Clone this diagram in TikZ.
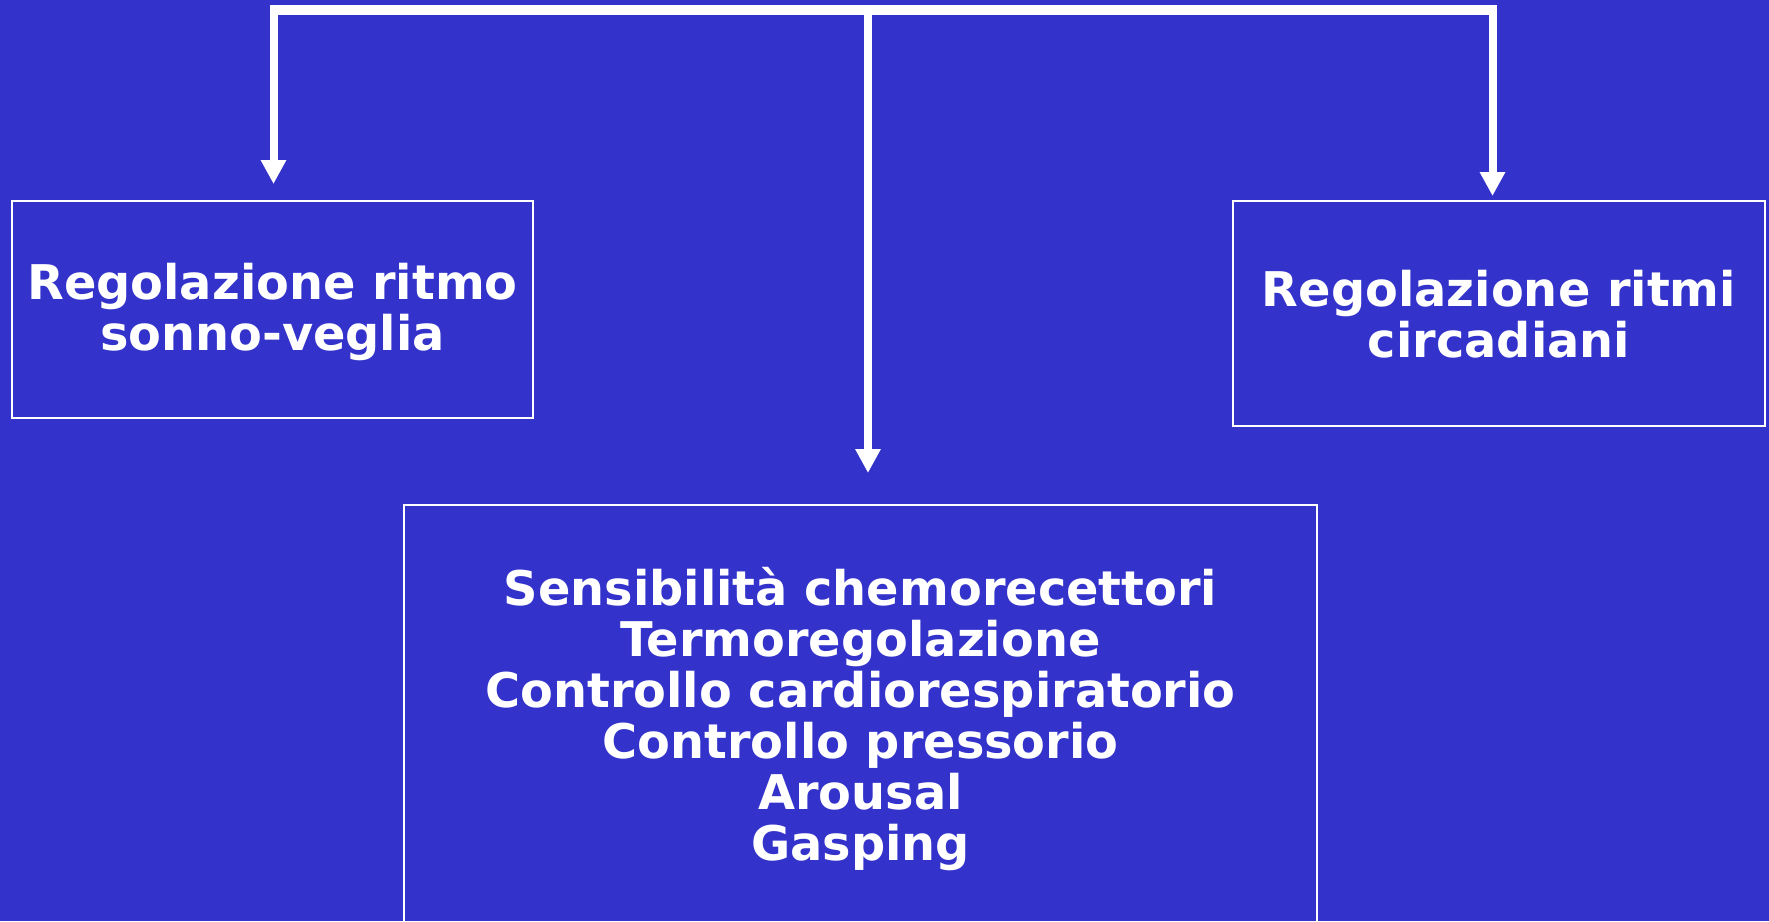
\documentclass[tikz,border=0pt]{standalone}
\usepackage{fontspec}
\setmainfont{DejaVu Sans}
\usetikzlibrary{arrows.meta}
\definecolor{bg}{RGB}{51,51,204}
\begin{document}
\begin{tikzpicture}[x=1pt,y=-1pt,
  box/.style={draw=white,line width=2.4pt,fill=none},
  lbl/.style={text=white,font=\fontsize{47.8}{51}\selectfont\bfseries,align=center},
  bar/.style={draw=white,line width=10pt},
  conn/.style={draw=white,line width=8pt,-{Triangle[width=24pt,length=24pt]}}]
\fill[bg] (0,0) rectangle (1769,921);
\useasboundingbox (0,0) rectangle (1769,921);
% boxes
\draw[box] (12,201) rectangle (533,418);
\node[lbl] (L) at (272.5,312) {Regolazione ritmo\\sonno-veglia};
\draw[box] (1233,201) rectangle (1765,426);
\node[lbl] (R) at (1499,314.5) {Regolazione ritmi\\circadiani};
\draw[box] (404,505) rectangle (1317,940);
\node[lbl,anchor=north] (M) at (860.5,563.5) {Sensibilità chemorecettori\\Termoregolazione\\Controllo cardiorespiratorio\\Controllo pressorio\\Arousal\\Gasping};
% connectors
\coordinate (tl) at (273.5,9.5);
\coordinate (tm) at (868,9.5);
\coordinate (tr) at (1492.5,9.5);
\coordinate (al) at (273.5,184);
\coordinate (am) at (868,473);
\coordinate (ar) at (1492.5,196);
\draw[bar] ([xshift=-4pt]tl) -- ([xshift=4pt]tr);
\draw[conn] (tl) -- (al);
\draw[conn] (tm) -- (am);
\draw[conn] (tr) -- (ar);
\end{tikzpicture}
\end{document}
